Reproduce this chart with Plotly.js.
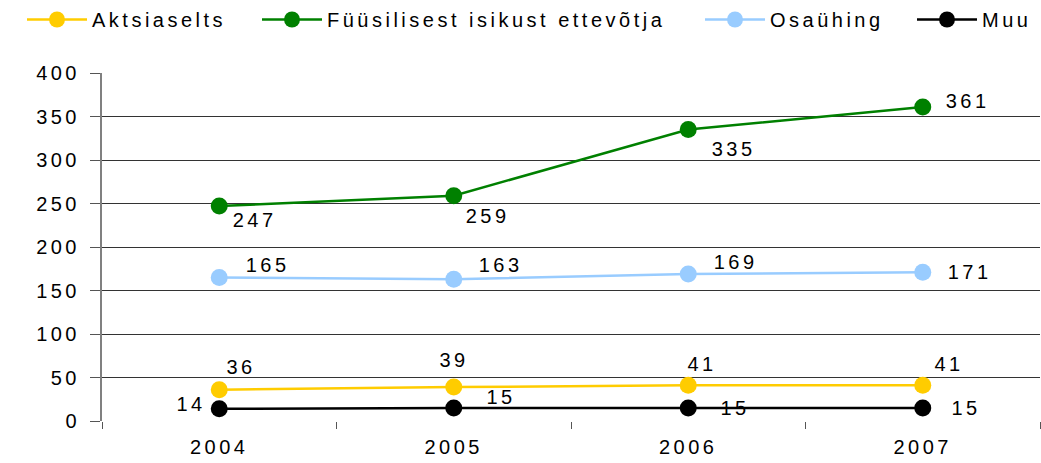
<!DOCTYPE html>
<html><head><meta charset="utf-8">
<script src="https://cdn.plot.ly/plotly-3.0.1.min.js"></script>
<style>html,body{margin:0;padding:0;background:#fff}
#chart svg text{letter-spacing:3.5px}
#chart g[class^="legend"], #chart g[class^="legend"] *{clip-path:none !important}</style>
</head><body><div id="chart" style="width:1041px;height:463px"></div>
<script>
const years = ['2004','2005','2006','2007'];
const aktsiaselts = [36, 39, 41, 41];
const fyysiline = [247, 259, 335, 361];
const osayhing = [165, 163, 169, 171];
const muu = [14, 15, 15, 15];
const yTicks = [0,50,100,150,200,250,300,350,400];

const font = {family:'Liberation Sans, Arial, sans-serif', size:20, color:'#000'};
const series = [
  {name:'Aktsiaselts', y:aktsiaselts, color:'#FFCC00', shifts:[[22,23],[0,27],[14,21],[26,21]]},
  {name:'Füüsilisest isikust ettevõtja', y:fyysiline, color:'#008000', shifts:[[35,-14],[34,-20],[45,-19],[45,6]]},
  {name:'Osaühing', y:osayhing, color:'#99CCFF', shifts:[[48,12],[47,14],[47,12],[47,0]]},
  {name:'Muu', y:muu, color:'#000000', shifts:[[-28,5],[47,11],[47,0],[43,0]]}
];
const legendX = [22, 257, 700, 912];
const data = series.map((s,k) => ({type:'scatter', mode:'lines+markers', name:s.name, x:years, y:s.y,
  legend: k===0 ? 'legend' : 'legend'+(k+1),
  line:{color:s.color, width:2.5}, marker:{color:s.color, size:17}, cliponaxis:false}));
const annotations = [];
series.forEach(s => s.y.forEach((v,i) => annotations.push({
  x:i, y:v, xref:'x', yref:'y', text:String(v), showarrow:false,
  xshift:s.shifts[i][0], yshift:s.shifts[i][1], font:font})));
const layout = {
  width:1041, height:463,
  margin:{l:102, r:1, t:73, b:42},
  paper_bgcolor:'#fff', plot_bgcolor:'#fff',
  font:font,
  showlegend:true,
  annotations:annotations,
  xaxis:{type:'category', range:[-0.5,3.5], tickson:'boundaries', ticks:'outside', ticklen:7,
    tickcolor:'#555', showgrid:false, showline:false, zeroline:false, tickfont:font, ticklabelstandoff:12, fixedrange:true},
  yaxis:{range:[0,400], tickvals:yTicks, ticktext:yTicks.map(String), ticks:'outside', ticklen:10,
    tickcolor:'#555', showline:true, linecolor:'#808080', linewidth:2, gridcolor:'#333', gridwidth:1,
    zeroline:false, tickfont:font, ticklabelstandoff:6, fixedrange:true}
};
legendX.forEach((lx,k) => {
  layout[k===0 ? 'legend' : 'legend'+(k+1)] = {orientation:'h', x:lx/1041, y:1, xref:'container', yref:'container',
    xanchor:'left', yanchor:'top', font:font, bgcolor:'rgba(0,0,0,0)', itemwidth:60};
});
Plotly.newPlot('chart', data, layout, {staticPlot:true});
</script></body></html>
